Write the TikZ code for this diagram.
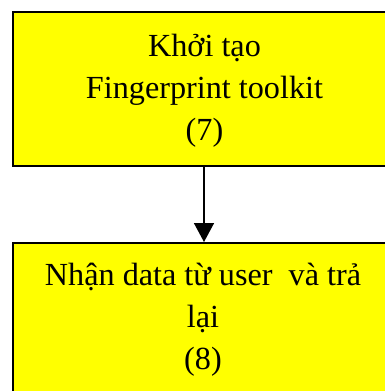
\documentclass[tikz,border=0pt]{standalone}
\usepackage{fontspec}
\setmainfont{Liberation Serif}
\usetikzlibrary{arrows.meta}
\definecolor{boxyellow}{HTML}{FFFF00}
\tikzset{
  flowbox/.style={draw=black, line width=1.6pt, fill=boxyellow, minimum width=385pt, inner sep=0pt},
  flowtext/.style={align=center, font=\fontsize{32.2pt}{42pt}\selectfont, inner sep=0pt},
  flowarrow/.style={line width=1.5pt, -{Triangle[length=19pt,width=20pt]}}
}
\begin{document}
\begin{tikzpicture}[x=1pt,y=-1pt]
  \useasboundingbox (0,0) rectangle (385,391);
  \clip (0,0) rectangle (385,391);
  % upper step
  \node[flowbox, minimum height=154pt, anchor=north west] (init) at (12,11) {};
  \node[flowtext, anchor=base] (initText) at (204.5,140) {Khởi tạo\\Fingerprint toolkit\\(7)};
  % lower step, running off the page
  \node[flowbox, minimum height=200pt, anchor=north west] (recv) at (12,242) {};
  \node[flowtext, anchor=base] (recvText) at (203,369) {Nhận data từ user~ và trả\\lại\\(8)};
  \draw[flowarrow] (init.south -| 204,0) -- (recv.north -| 204,0);
\end{tikzpicture}
\end{document}
